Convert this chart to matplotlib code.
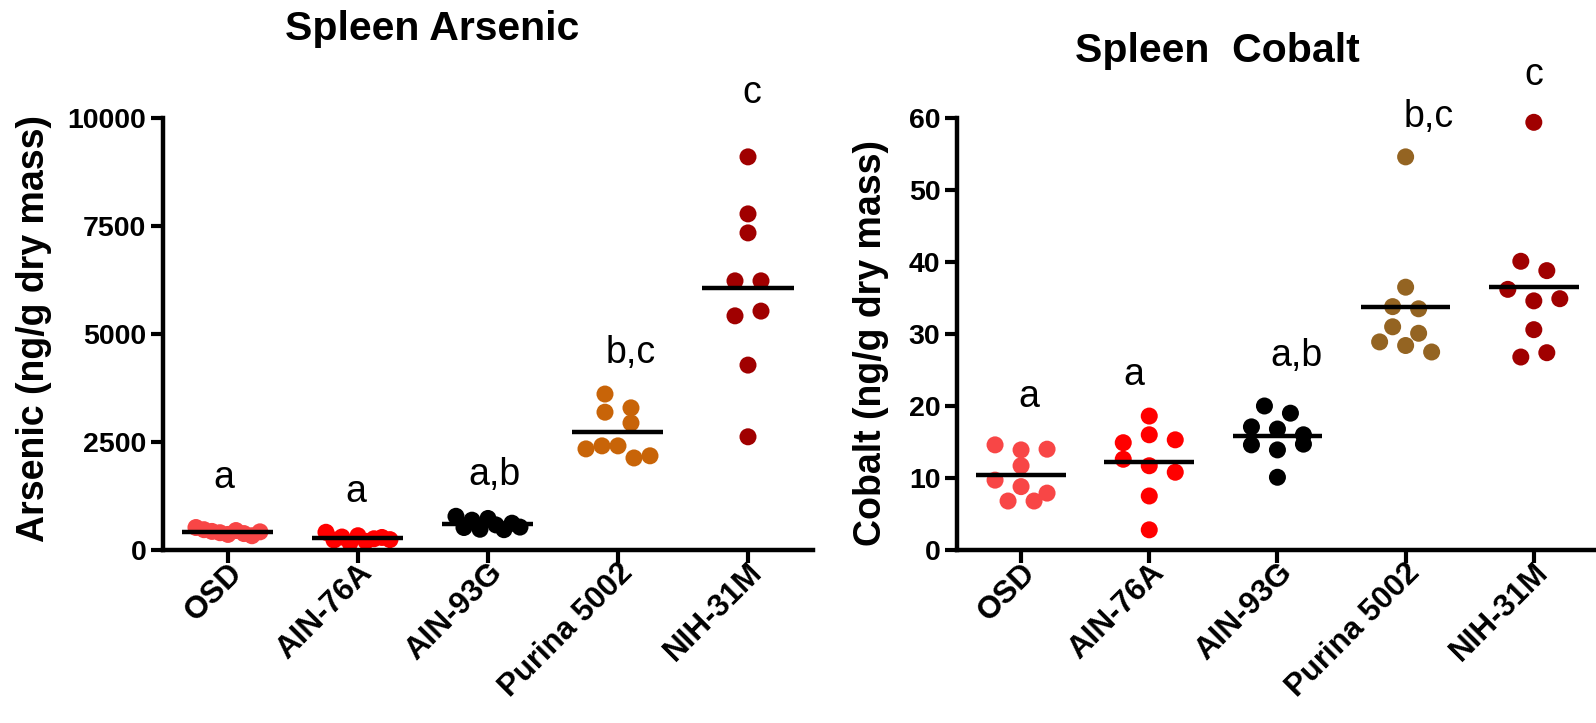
import numpy as np
import matplotlib
matplotlib.use('Agg')
import matplotlib.pyplot as plt
from matplotlib.transforms import ScaledTranslation

plt.rcParams['font.family'] = ['Liberation Sans', 'DejaVu Sans']

groups = ['OSD', 'AIN-76A', 'AIN-93G', 'Purina 5002', 'NIH-31M']

# spleen arsenic, ng/g dry mass
as_osd = [520, 470, 430, 400, 360, 450, 380, 330, 420]
as_ain76 = [410, 230, 300, 170, 330, 200, 260, 290, 240]
as_ain93 = [780, 520, 690, 480, 730, 580, 470, 620, 530]
as_purina = [3610, 3190, 3290, 2940, 2340, 2410, 2410, 2130, 2180]
as_nih = [9100, 7780, 7340, 6230, 6230, 5420, 5530, 4280, 2620]

# spleen cobalt, ng/g dry mass
co_osd = [14.6, 13.9, 14.0, 11.7, 9.7, 8.8, 7.9, 6.8, 6.8]
co_ain76 = [18.6, 14.9, 16.0, 15.3, 12.6, 11.7, 10.8, 7.5, 2.8]
co_ain93 = [20.0, 19.0, 17.1, 16.8, 16.0, 14.6, 13.9, 14.7, 10.1]
co_purina = [54.6, 36.5, 33.8, 33.5, 31.0, 30.1, 28.9, 28.4, 27.5]
co_nih = [59.4, 40.1, 38.8, 36.2, 34.6, 34.9, 30.6, 26.8, 27.4]

as_letters = ['a', 'a', 'a,b', 'b,c', 'c']
co_letters = ['a', 'a', 'a,b', 'b,c', 'c']

# where the letters sit (x shift in category units, baseline in data units)
as_letter_dx = [-0.03, -0.02, 0.05, 0.1, 0.03]
as_letter_y = [1435, 1111, 1505, 4330, 10350]
co_letter_dx = [0.06, -0.12, 0.15, 0.18, 0.0]
co_letter_y = [19.9, 22.9, 25.6, 58.8, 64.6]

as_colors = ['#F84646', '#FF0000', '#000000', '#C86408', '#A00000']
co_colors = ['#F84646', '#FF0000', '#000000', '#946422', '#A00000']


def scatter_offsets(ax, i, vals, row_h=14.0, step=26.0, max_half=32.0):
    # group points into rows of similar height (pixels), spread each row sideways
    ys = ax.transData.transform([(i, v) for v in vals])[:, 1]
    order = list(np.argsort(-ys))
    offs = np.zeros(len(vals))
    while order:
        top = ys[order[0]]
        row = sorted(j for j in order if top - ys[j] < row_h)
        order = [j for j in order if j not in row]
        n = len(row)
        if n > 1:
            s = min(step, 2 * max_half / (n - 1))
            for k, j in enumerate(row):
                offs[j] = (k - (n - 1) / 2) * s
    px_per_cat = ax.transData.transform((1, 0))[0] - ax.transData.transform((0, 0))[0]
    return offs / px_per_cat


def panel(ax, data, colors, letters, ldx, ly, ymax, yticks):
    ax.set_xlim(-0.5, 4.5)
    ax.set_ylim(0, ymax)
    for i, vals in enumerate(data):
        offs = scatter_offsets(ax, i, vals)
        ax.scatter(i + offs, vals, s=150, color=colors[i], edgecolors='none',
                   zorder=2, clip_on=False)
        m = np.mean(vals)
        ax.plot([i - 0.35, i + 0.35], [m, m], color='black', lw=3.2,
                solid_capstyle='butt', zorder=3)
        ax.text(i + ldx[i], ly[i], letters[i], ha='center', va='baseline',
                fontsize=27, clip_on=False)
    ax.spines['top'].set_visible(False)
    ax.spines['right'].set_visible(False)
    ax.spines['left'].set_linewidth(3.2)
    ax.spines['bottom'].set_linewidth(3.2)
    ax.set_yticks(yticks)
    ax.set_yticklabels([str(t) for t in yticks], fontsize=20.5, fontweight='bold')
    ax.set_xticks(range(len(groups)))
    ax.set_xticklabels(groups, fontsize=22.5, fontweight='bold', rotation=45,
                       ha='right', va='center', rotation_mode='anchor')
    ax.tick_params(axis='both', length=9, width=3, pad=3)
    ax.tick_params(axis='x', pad=4)
    shift = ScaledTranslation(10 / 100, 0, ax.figure.dpi_scale_trans)
    for lab in ax.get_xticklabels():
        lab.set_transform(lab.get_transform() + shift)


fig = plt.figure(figsize=(15.96, 7.23), dpi=100)
ax1 = fig.add_axes([0.1021, 0.2393, 0.4073, 0.5975])
ax2 = fig.add_axes([0.5996, 0.2393, 0.4016, 0.5975])

panel(ax1, [as_osd, as_ain76, as_ain93, as_purina, as_nih], as_colors,
      as_letters, as_letter_dx, as_letter_y, 10000, [0, 2500, 5000, 7500, 10000])
panel(ax2, [co_osd, co_ain76, co_ain93, co_purina, co_nih], co_colors,
      co_letters, co_letter_dx, co_letter_y, 60, [0, 10, 20, 30, 40, 50, 60])

fig.text(432 / 1596, 1 - 40 / 723, 'Spleen Arsenic', ha='center', va='baseline',
         fontsize=29.5, fontweight='bold')
fig.text(1217 / 1596, 1 - 62 / 723, 'Spleen  Cobalt', ha='center', va='baseline',
         fontsize=29.5, fontweight='bold')
fig.text(34 / 1596, 1 - 328 / 723, 'Arsenic (ng/g dry mass)', rotation=90,
         ha='center', va='center', fontsize=27, fontweight='bold')
fig.text(871 / 1596, 1 - 343 / 723, 'Cobalt (ng/g dry mass)', rotation=90,
         ha='center', va='center', fontsize=27, fontweight='bold')

fig.savefig('out.png', dpi=100)
